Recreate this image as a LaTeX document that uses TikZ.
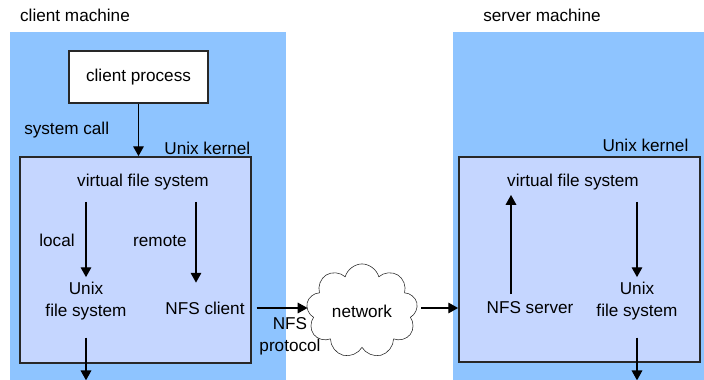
\documentclass[tikz,border=0pt]{standalone}
\usepackage{fontspec}
\setmainfont{Liberation Sans}
\usetikzlibrary{shapes.symbols,arrows.meta}
\definecolor{machineblue}{RGB}{142,196,255}
\definecolor{kernelblue}{RGB}{197,214,255}
\definecolor{edgegray}{RGB}{40,40,40}
\tikzset{
  machine/.style={fill=machineblue, inner sep=0pt},
  kernel/.style={draw=edgegray, fill=kernelblue, line width=1.2pt, inner sep=0pt},
  proc/.style={draw=edgegray, fill=white, line width=1.2pt},
  arr/.style={-{Triangle[length=7pt,width=7.5pt]}, line width=1pt},
}
\begin{document}
\begin{tikzpicture}[x=0.025cm, y=-0.025cm, font=\fontsize{12.2}{15.5}\selectfont]
    \useasboundingbox (0,0) rectangle (704,380);

    \node[machine, minimum width=6.9cm, minimum height=8.7cm] at (148,206) (cm) {};
    \node[machine, minimum width=6.275cm, minimum height=8.7cm] at (578.5,206) (sm) {};
    \node at (75,15) (cml) {client machine};
    \node at (542,15) (sml) {server machine};

    \node[proc, minimum width=3.475cm, minimum height=1.3cm] at (138.5,77) (cp) {client process};
    \node[kernel, minimum width=5.775cm, minimum height=5.15cm] at (135.5,260) (ck) {};
    \node[above left, inner sep=1pt] at (ck.north east) (ckl) {Unix kernel};
    \node at (143,182) (cvfs) {virtual file system};
    \node[align=center] at (86,301) (cufs) {Unix\\file system};
    \node at (205,308) (nfsc) {NFS client};

    \node[cloud, cloud puffs=9, aspect=1.35, draw=edgegray, fill=white, minimum width=2.625cm, minimum height=1.95cm] at (362,311) (net) {network};
    \node[align=center] at (290,336) (prot) {NFS\\protocol};

    \node[kernel, minimum width=6.025cm, minimum height=5.125cm] at (579.5,259.5) (sk) {};
    \node[above left, inner sep=3pt] at ([xshift=-0.2cm]sk.north east) (skl) {Unix kernel};
    \node at (573,182) (svfs) {virtual file system};
    \node at (530,308) (nfss) {NFS server};
    \node[align=center] at (637,301) (sufs) {Unix\\file system};

    \draw[arr] (cp.south) -- node[left=0.6cm] {system call} (cp.south |- ck.north);
    \draw[arr, shorten <=5pt] (cvfs.south -| cufs.north) -- node[left=0.15cm, pos=0.55] {local} (cufs.north);
    \draw[arr, shorten <=5pt, shorten >=10pt] ([xshift=-0.225cm]nfsc.north |- cvfs.south) -- node[left=0.1cm, pos=0.45] {remote} ([xshift=-0.225cm]nfsc.north);
    \draw[arr, shorten <=9pt] (cufs.south) -- (cufs.south |- cm.south);
    \draw[arr, shorten <=5pt] (nfsc.east) -- (nfsc.east -| net.west);
    \draw[arr, shorten <=3.5pt] (nfsc.east -| net.east) -- (nfsc.east -| sk.west);
    \draw[arr, shorten <=2pt] ([xshift=-0.475cm]nfss.north) -- ([xshift=-0.475cm]nfss.north |- svfs.south);
    \draw[arr, shorten <=5pt] (svfs.south -| sufs.north) -- (sufs.north);
    \draw[arr, shorten <=9pt] (sufs.south) -- (sufs.south |- sm.south);

\end{tikzpicture}
\end{document}
